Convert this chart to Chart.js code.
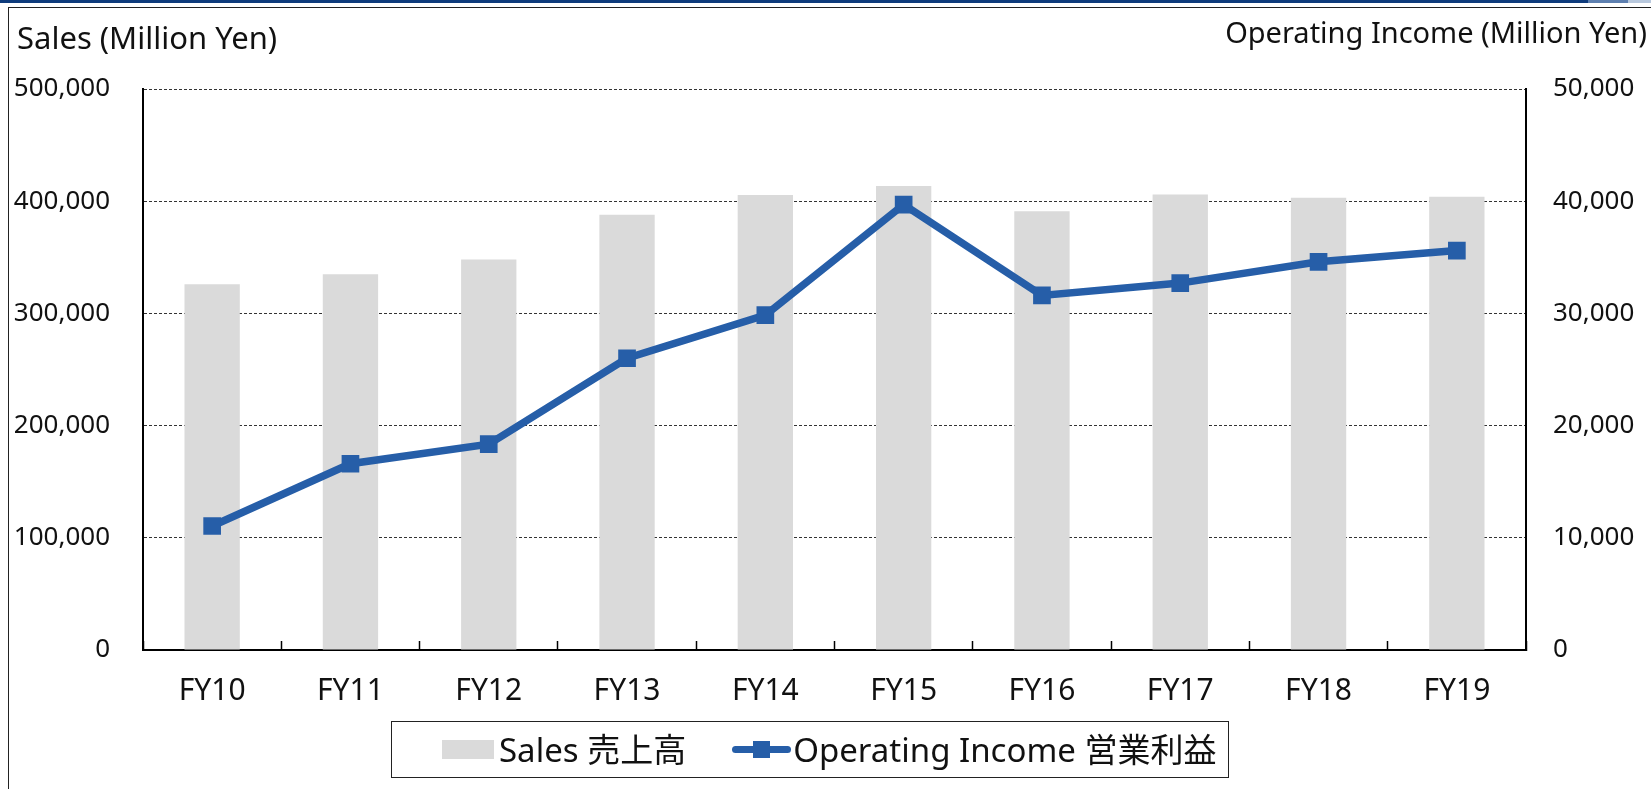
<!DOCTYPE html>
<html lang="ja">
<head>
  <meta charset="UTF-8" />
  <title>Sales / Operating Income</title>
  <script src="https://cdn.jsdelivr.net/npm/chart.js"></script>
  <style>
    html, body { margin: 0; padding: 0; background: #fff; }
    body {
      width: 1651px;
      height: 789px;
      position: relative;
      overflow: hidden;
      font-family: 'Noto Sans', 'Noto Sans CJK JP', sans-serif;
      color: #111;
    }
    .topbar { position: absolute; left: 0; top: 0; width: 1651px; height: 3px; background: #0e3b7c; }
    .topbar .seg1 { position: absolute; left: 1588px; top: 0; width: 40px; height: 3px; background: #5e80b0; }
    .topbar .seg2 { position: absolute; left: 1628px; top: 0; width: 23px; height: 3px; background: #b9c9de; }
    .frame {
      position: absolute; left: 8px; top: 7px; width: 1700px; height: 900px;
      border-left: 1.5px solid #222; border-top: 1.5px solid #222;
    }
    #chart { position: absolute; left: 0; top: 0; }
    .axis-title { position: absolute; line-height: 1; white-space: nowrap; }
    #title-left { left: 17px; top: 22px; font-size: 31px; }
    #title-right { right: 4px; top: 17px; font-size: 29px; }

    .legend {
      position: absolute; left: 391px; top: 721px; width: 838px; height: 57px;
      box-sizing: border-box; border: 1.5px solid #222;
      display: flex; align-items: center; padding-left: 50px;
      font-size: 33px; line-height: 1; white-space: nowrap;
    }
    .sw-bar { width: 52px; height: 19px; background: #dadada; margin-right: 5px; }
    .sw-line { position: relative; width: 59px; height: 20px; margin-right: 2px; }
    .sw-line .ln { position: absolute; left: 0; top: 6.5px; width: 59px; height: 7px; border-radius: 4px; background: #265ea8; }
    .sw-line .pt { position: absolute; left: 21px; top: 1.5px; width: 17px; height: 17px; background: #265ea8; }
  </style>
</head>
<body>

<div class="topbar"><div class="seg1"></div><div class="seg2"></div></div>
<div class="frame"></div>

<canvas id="chart" width="1651" height="789"></canvas>

<div class="axis-title" id="title-left">Sales (Million Yen)</div>
<div class="axis-title" id="title-right">Operating Income (Million Yen)</div>

<div class="legend">
  <div class="sw-bar"></div>
  <span style="margin-right: 46px;">Sales 売上高</span>
  <div class="sw-line"><div class="ln"></div><div class="pt"></div></div>
  <span>Operating Income 営業利益</span>
</div>

<script>
  const categories = ['FY10', 'FY11', 'FY12', 'FY13', 'FY14', 'FY15', 'FY16', 'FY17', 'FY18', 'FY19'];
  const salesValues = [326000, 335000, 348000, 388000, 405500, 413500, 391000, 406000, 403000, 404000];
  const incomeValues = [11050, 16600, 18350, 26000, 29850, 39700, 31600, 32700, 34600, 35600];
  const salesTicks = [0, 100000, 200000, 300000, 400000, 500000];
  const incomeTicks = [0, 10000, 20000, 30000, 40000, 50000];

  const fontFamily = "'Noto Sans', 'Noto Sans CJK JP', sans-serif";
  Chart.defaults.font.family = fontFamily;
  Chart.defaults.color = '#111';

  const fmt = v => Number(v).toLocaleString('en-US');

  new Chart(document.getElementById('chart'), {
    type: 'bar',
    data: {
      labels: categories,
      datasets: [
        {
          type: 'line',
          label: 'Operating Income 営業利益',
          data: incomeValues,
          yAxisID: 'y2',
          order: 0,
          borderColor: '#265ea8',
          backgroundColor: '#265ea8',
          borderWidth: 7.5,
          tension: 0,
          pointStyle: 'rect',
          pointRadius: 12.5,
          pointBorderWidth: 0,
          pointBackgroundColor: '#265ea8'
        },
        {
          type: 'bar',
          label: 'Sales 売上高',
          data: salesValues,
          yAxisID: 'y',
          order: 1,
          backgroundColor: '#dadada',
          barPercentage: 0.4,
          categoryPercentage: 1
        }
      ]
    },
    options: {
      responsive: false,
      devicePixelRatio: 1,
      animation: false,
      layout: { padding: { top: 89, left: 0, right: 0, bottom: 0 } },
      plugins: {
        legend: { display: false },
        tooltip: { enabled: false }
      },
      scales: {
        x: {
          grid: {
            display: true,
            drawOnChartArea: false,
            drawTicks: true,
            tickLength: -9,
            tickColor: '#000',
            tickWidth: 1.5,
            offset: true
          },
          border: { display: true, color: '#000', width: 2 },
          ticks: { font: { size: 30 }, color: '#111', padding: 32 },
          afterFit: s => { s.height = 139; }
        },
        y: {
          position: 'left',
          min: 0,
          max: 500000,
          grid: { color: '#333', lineWidth: 1, drawTicks: false },
          border: { display: true, color: '#000', width: 2, dash: [3, 2] },
          ticks: { font: { size: 26 }, color: '#111', padding: 33, callback: fmt },
          afterBuildTicks: s => { s.ticks = salesTicks.map(v => ({ value: v })); },
          afterFit: s => { s.width = 143; }
        },
        y2: {
          position: 'right',
          min: 0,
          max: 50000,
          grid: { display: false, drawTicks: false },
          border: { display: true, color: '#000', width: 2 },
          ticks: { font: { size: 26 }, color: '#111', padding: 27, callback: fmt },
          afterBuildTicks: s => { s.ticks = incomeTicks.map(v => ({ value: v })); },
          afterFit: s => { s.width = 125; }
        }
      }
    }
  });
</script>

</body>
</html>
